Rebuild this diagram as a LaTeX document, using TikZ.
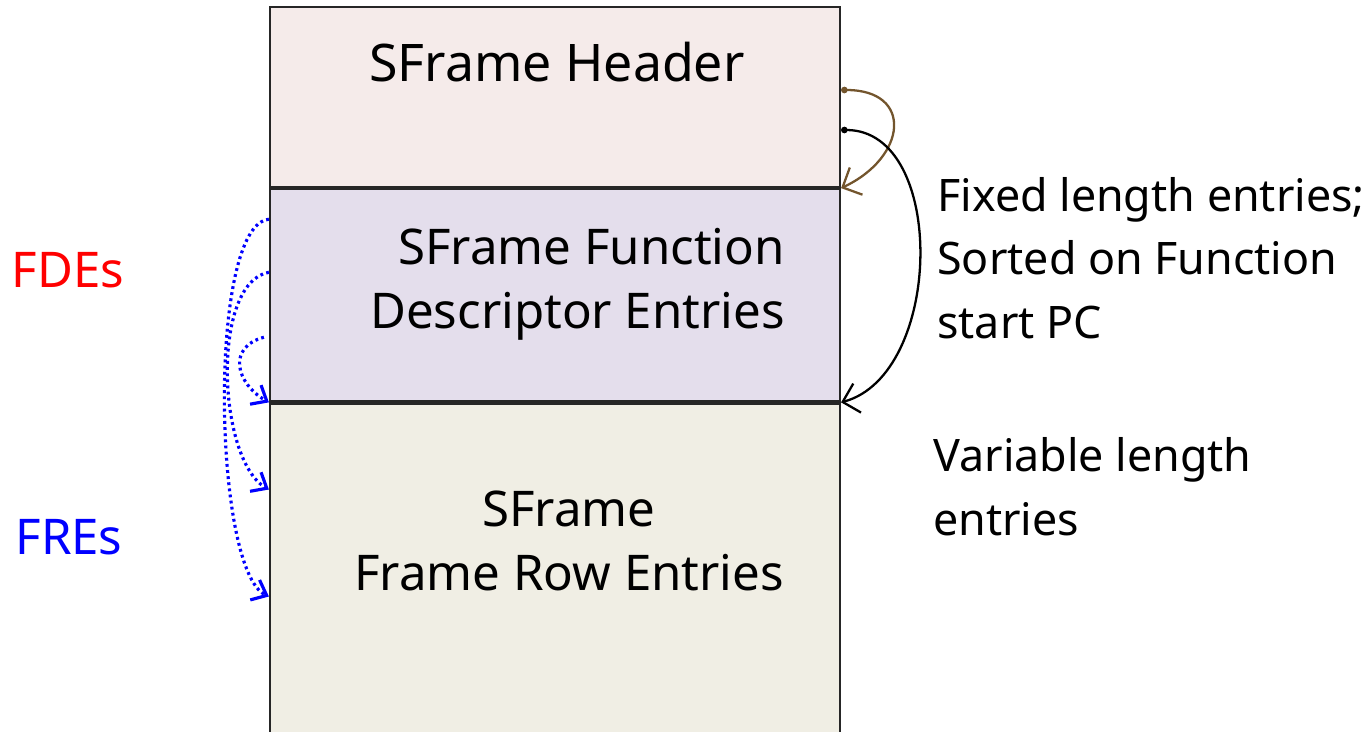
\documentclass[tikz,border=0pt]{standalone}
\usepackage{fontspec}
\setmainfont{Noto Sans}
\usetikzlibrary{arrows.meta,positioning}

\definecolor{hdrfill}{RGB}{245,235,234}
\definecolor{fdefill}{RGB}{228,222,236}
\definecolor{frefill}{RGB}{240,238,228}
\definecolor{hdrarrow}{RGB}{115,85,45}

\begin{document}
\begin{tikzpicture}[
  x=0.02cm, y=-0.02cm,
  every node/.style={font=\fontsize{28}{36.5}\selectfont},
  section/.style={rectangle, draw=black!85, line width=1.3pt, minimum width=11.4cm, inner sep=0pt},
  note/.style={align=left, inner sep=0pt, anchor=west, font=\fontsize{25.5}{36.3}\selectfont},
  span/.style={{Circle[length=1.3mm]}-{Straight Barb[length=3mm, width=6mm]}, line width=1.3pt},
  link/.style={-{Straight Barb[length=2.6mm, width=4.4mm]}, blue, line width=1.8pt, dash pattern=on 1.6pt off 1.9pt}
]
\useasboundingbox (0,0) rectangle (1369,731);

% --- SECTION STACK ---
\node[section, fill=hdrfill, minimum height=3.6cm] (header) at (555,97) {};
\node[section, fill=fdefill, minimum height=4.24cm, below=0pt of header] (fdes) {};
\node[section, fill=frefill, minimum height=6.64cm, below=0pt of fdes] (fres) {};

% --- SECTION TITLES ---
\node[font=\fontsize{29.5}{36}\selectfont] (hdrtitle) at (557,62) {SFrame Header};
\node[align=right, anchor=east] (fdetitle) at (791,284) {SFrame Function\\Descriptor Entries};
\node[align=center] (fretitle) at (569,541) {SFrame\\Frame Row Entries};

% --- SIDE NOTES ---
\node[note] (fixednote) at (937,258) {Fixed length entries;\\Sorted on Function\\start PC};
\node[note] (varnote) at (933,487) {Variable length\\entries};
\node[text=red] (fdelabel) at (68,270) {FDEs};
\node[text=blue] (frelabel) at (69,537) {FREs};

% --- HEADER OFFSETS ---
\draw[span, hdrarrow] ([yshift=0.14cm]header.east)
      to[out=0, in=25, looseness=1.9] (header.south east);
\draw[span] ([yshift=-0.66cm]header.east)
      to[out=0, in=15, looseness=1.0] (fdes.south east);

% --- FDE TO FRE LINKS ---
\draw[link] ([yshift=1.52cm]fdes.west) to[out=185, in=155, looseness=0.42] ([yshift=-0.54cm]fres.west);
\draw[link] ([yshift=0.46cm]fdes.west) to[out=190, in=150, looseness=0.7] ([yshift=1.6cm]fres.west);
\draw[link] ([xshift=-0.1cm, yshift=-0.84cm]fdes.west) to[out=195, in=150, looseness=1.5] (fdes.south west);

\end{tikzpicture}
\end{document}
